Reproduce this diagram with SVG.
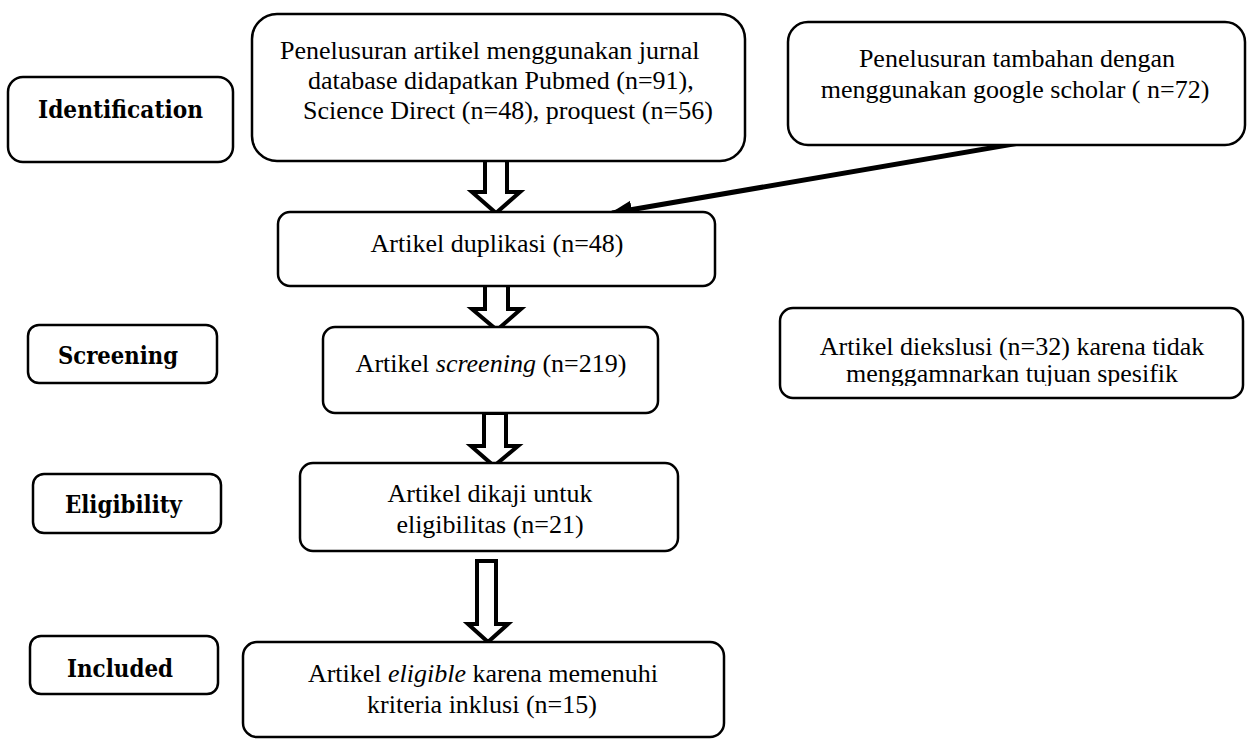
<svg xmlns="http://www.w3.org/2000/svg" width="1249" height="739" viewBox="0 0 1249 739">
<style>
.box{fill:#fff;stroke:#000;stroke-width:2.5}
.t{font-size:26px;fill:#000}
.c{text-anchor:middle}
.lb{font-weight:bold;font-size:24px;fill:#000}
.ha{fill:#fff;stroke:#000;stroke-width:4;stroke-linejoin:miter}
</style>
<defs>
<marker id="ah" markerUnits="userSpaceOnUse" markerWidth="24" markerHeight="20" refX="20" refY="9" orient="auto">
<path d="M0,0 L22,9 L0,18 Z" fill="#000"/>
</marker>
<clipPath id="clip7"><rect x="770" y="300" width="479" height="86"/></clipPath>
</defs>
<rect width="1249" height="739" fill="#fff"/>

<g id="label-identification" font-family="DejaVu Serif, serif">
<rect class="box" x="8" y="77" width="225" height="85" rx="15"/>
<text class="lb" x="38" y="118" textLength="165" lengthAdjust="spacingAndGlyphs">Identification</text>
</g>
<g id="label-screening" font-family="DejaVu Serif, serif">
<rect class="box" x="28" y="325" width="189" height="58" rx="11"/>
<text class="lb" x="58" y="364" textLength="120" lengthAdjust="spacingAndGlyphs">Screening</text>
</g>
<g id="label-eligibility" font-family="DejaVu Serif, serif">
<rect class="box" x="33" y="474" width="188" height="59" rx="11"/>
<text class="lb" x="65" y="513" textLength="117" lengthAdjust="spacingAndGlyphs">Eligibility</text>
</g>
<g id="label-included" font-family="DejaVu Serif, serif">
<rect class="box" x="30" y="636" width="188" height="58" rx="11"/>
<text class="lb" x="67" y="677" textLength="106" lengthAdjust="spacingAndGlyphs">Included</text>
</g>

<g id="connectors">
<line x1="1025" y1="142" x2="612" y2="213" stroke="#000" stroke-width="5" marker-end="url(#ah)"/>
<polygon class="ha" points="485,160 507,160 507,192 520,192 496,213 472,192 485,192"/>
<polygon class="ha" points="485,279 508,279 508,309 521,309 497,330 472,309 485,309"/>
<polygon class="ha" points="484,413 506,413 506,446 518,446 494,466 471,446 484,446"/>
<polygon class="ha" points="477,561 496,561 496,624 508,624 488,642 468,624 477,624"/>
</g>

<g id="node-search" font-family="Liberation Serif, serif">
<rect class="box" x="252" y="14" width="493" height="147" rx="25"/>
<text class="t" x="280" y="59">Penelusuran artikel menggunakan jurnal</text>
<text class="t" x="308" y="89">database didapatkan Pubmed (n=91),</text>
<text class="t" x="303" y="119">Science Direct (n=48), proquest (n=56)</text>
</g>
<g id="node-google" font-family="Liberation Serif, serif">
<rect class="box" x="788" y="22" width="457" height="123" rx="20"/>
<text class="t c" x="1017" y="67">Penelusuran tambahan dengan</text>
<text class="t c" x="1015" y="98">menggunakan google scholar ( n=72)</text>
</g>
<g id="node-duplikasi" font-family="Liberation Serif, serif">
<rect class="box" x="278" y="212" width="437" height="74" rx="12"/>
<text class="t c" x="497" y="252">Artikel duplikasi (n=48)</text>
</g>
<g id="node-screening" font-family="Liberation Serif, serif">
<rect class="box" x="323" y="327" width="335" height="86" rx="12"/>
<text class="t c" x="491" y="372">Artikel <tspan font-style="italic">screening</tspan> (n=219)</text>
</g>
<g id="node-excluded" font-family="Liberation Serif, serif">
<rect class="box" x="780" y="308" width="463" height="90" rx="13"/>
<text class="t c" x="1012" y="355">Artikel diekslusi (n=32) karena tidak</text>
<text class="t c" x="1012" y="382" clip-path="url(#clip7)">menggamnarkan tujuan spesifik</text>
</g>
<g id="node-eligibility" font-family="Liberation Serif, serif">
<rect class="box" x="300" y="463" width="378" height="88" rx="13"/>
<text class="t c" x="490" y="502">Artikel dikaji untuk</text>
<text class="t c" x="490" y="533">eligibilitas (n=21)</text>
</g>
<g id="node-included" font-family="Liberation Serif, serif">
<rect class="box" x="243" y="642" width="481" height="95" rx="14"/>
<text class="t c" x="483" y="682">Artikel <tspan font-style="italic">eligible</tspan> karena memenuhi</text>
<text class="t c" x="482" y="713">kriteria inklusi (n=15)</text>
</g>
</svg>
